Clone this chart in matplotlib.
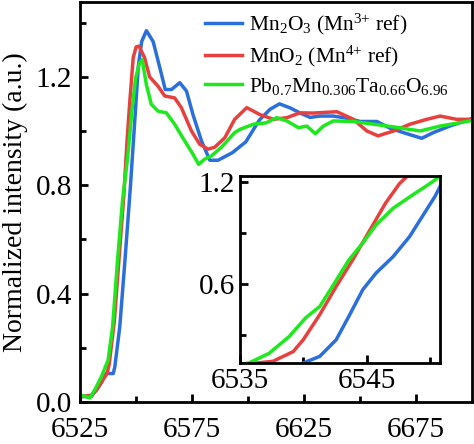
import numpy as np
import matplotlib
matplotlib.use('Agg')
import matplotlib.pyplot as plt

plt.rcParams['font.family'] = 'serif'
plt.rcParams['font.serif'] = ['Liberation Serif', 'DejaVu Serif']
plt.rcParams['mathtext.default'] = 'regular'

# Mn K-edge XANES, main panel
x_mn2o3 = [6525.6, 6530, 6534.4, 6536.7, 6539.8, 6540.5, 6542.7, 6545, 6547.5, 6549.5,
           6551, 6552.5, 6554.6, 6557.6, 6560.6, 6563, 6565.8, 6569.5, 6572.5, 6575.4,
           6579.2, 6582.9, 6586.6, 6593, 6599, 6605, 6609.8, 6614, 6618.8, 6623, 6627.7,
           6632, 6638, 6644, 6650, 6657.5, 6663.4, 6670.8, 6677.5, 6682.7, 6690, 6699]
y_mn2o3 = [0.02, 0.02, 0.07, 0.105, 0.105, 0.13, 0.277, 0.52, 0.80, 1.05,
           1.24, 1.33, 1.37, 1.33, 1.233, 1.153, 1.153, 1.178, 1.147, 1.06,
           0.963, 0.892, 0.892, 0.92, 0.96, 1.04, 1.08, 1.10, 1.085, 1.067, 1.05,
           1.055, 1.055, 1.047, 1.035, 1.035, 1.01, 0.99, 0.973, 0.994, 1.018, 1.043]

x_mno2 = [6525.6, 6530, 6532.4, 6535, 6537, 6538, 6540.3, 6542.3, 6544.5, 6546, 6547.2,
          6548.7, 6550, 6551.3, 6553.8, 6556, 6559.8, 6562.8, 6567.2, 6570.2, 6574.7,
          6578.4, 6582.1, 6585.1, 6589.6, 6594, 6599.4, 6605.4, 6611.3, 6617.3, 6623.2,
          6629, 6639.6, 6647, 6653, 6658, 6665, 6672.3, 6679.8, 6685.7, 6693, 6699]
y_mno2 = [0.02, 0.025, 0.044, 0.08, 0.105, 0.14, 0.30, 0.52, 0.76, 0.97, 1.11,
          1.27, 1.31, 1.313, 1.27, 1.20, 1.165, 1.129, 1.122, 1.086, 1.0,
          0.951, 0.933, 0.94, 0.975, 1.043, 1.086, 1.06, 1.043, 1.049, 1.067,
          1.066, 1.071, 1.043, 1.0, 0.982, 1.0, 1.025, 1.043, 1.055, 1.043, 1.043]

x_sample = [6525.6, 6529.3, 6531.5, 6534.5, 6537.5, 6539.5, 6541.7, 6544, 6546.2, 6548.2,
            6549.8, 6551.5, 6552.7, 6554.6, 6556.8, 6559.8, 6563.5, 6567.2, 6571.7, 6575.4,
            6577.9, 6580.6, 6583.6, 6588, 6594, 6596.4, 6602.4, 6608, 6612.8, 6617.3,
            6622.5, 6626.2, 6630, 6633.6, 6638, 6647, 6656, 6665, 6676.8, 6685.7, 6699]
y_sample = [0.025, 0.015, 0.044, 0.093, 0.155, 0.277, 0.522, 0.75, 0.90, 1.08,
            1.196, 1.25, 1.263, 1.17, 1.098, 1.073, 1.067, 1.025, 0.963, 0.914,
            0.877, 0.896, 0.908, 0.939, 0.994, 1.006, 1.025, 1.03, 1.049, 1.037,
            1.012, 1.018, 0.99, 1.018, 1.037, 1.035, 1.025, 1.015, 1.0, 1.018, 1.037]

# inset (edge region)
xi_mn2o3 = [6540.0, 6541.3, 6542.6, 6543.6, 6544.7, 6545.75, 6547.1, 6548.4, 6549.4, 6550.4, 6550.8]
yi_mn2o3 = [0.133, 0.172, 0.27, 0.408, 0.565, 0.663, 0.76, 0.878, 0.996, 1.114, 1.172]
xi_mno2 = [6535.0, 6536.3, 6537.6, 6539.2, 6540.0, 6541.3, 6542.6, 6543.9, 6545.2, 6546.5, 6547.6, 6548.3]
yi_mno2 = [0.12, 0.133, 0.143, 0.20, 0.27, 0.418, 0.584, 0.74, 0.908, 1.075, 1.19, 1.24]
xi_sample = [6535.0, 6535.7, 6537.3, 6538.9, 6540.2, 6541.3, 6542.3, 6543.6, 6544.7,
             6545.75, 6547.1, 6548.65, 6550.0, 6550.7]
yi_sample = [0.125, 0.133, 0.19, 0.29, 0.40, 0.466, 0.584, 0.74, 0.84,
             0.947, 1.045, 1.124, 1.19, 1.228]

labels = [r'Mn$_2$O$_3$ (Mn$^{3{+}}$ ref)', r'MnO$_2$ (Mn$^{4{+}}$ ref)',
          r'Pb$_{0.7}$Mn$_{0.306}$Ta$_{0.66}$O$_{6.96}$']
colors = ['#2a6fdc', '#e8403f', '#1ee81e']

fig = plt.figure(figsize=(4.74, 4.44), dpi=100)
ax = fig.add_axes([0.169, 0.0946, 0.827, 0.9004])

for xs, ys, c, lab in zip([x_mn2o3, x_mno2, x_sample], [y_mn2o3, y_mno2, y_sample], colors, labels):
    ax.plot(xs, ys, color=c, lw=2.5, label=lab, solid_joinstyle='round')

ax.set_xlim(6525, 6700)
ax.set_ylim(0, 1.475)
ax.set_xticks([6525, 6575, 6625, 6675])
ax.set_xticks([6550, 6600, 6650], minor=True)
ax.set_yticks([0.0, 0.4, 0.8, 1.2])
ax.set_yticks([0.2, 0.6, 1.0, 1.4], minor=True)
ax.tick_params(which='both', direction='in', width=2, labelsize=21)
ax.tick_params(which='major', length=6)
ax.tick_params(which='minor', length=4)
ax.tick_params(axis='x', pad=11)
ax.tick_params(axis='y', pad=6)
for s in ax.spines.values():
    s.set_linewidth(2)
ax.set_ylabel('Normalized intensity (a.u.)', fontsize=20, labelpad=5)

ax.legend(loc='upper left', frameon=False, fontsize=15.5, handlelength=1.75,
          handletextpad=0.3, labelspacing=0.3, borderpad=0, borderaxespad=0,
          bbox_to_anchor=(0.318, 0.975))

# inset
axi = fig.add_axes([0.5063, 0.1824, 0.4219, 0.4212])
for xs, ys, c in zip([xi_mn2o3, xi_mno2, xi_sample], [yi_mn2o3, yi_mno2, yi_sample], colors):
    axi.plot(xs, ys, color=c, lw=2.5, solid_joinstyle='round')
axi.set_xlim(6535, 6550.8)
axi.set_ylim(0.133, 1.235)
axi.set_xticks([6535, 6545])
axi.set_xticks([6540, 6550], minor=True)
axi.set_yticks([0.6, 1.2])
axi.set_yticks([0.3, 0.9], minor=True)
axi.tick_params(which='both', direction='in', width=2, labelsize=21)
axi.tick_params(which='major', length=6)
axi.tick_params(which='minor', length=4)
for s in axi.spines.values():
    s.set_linewidth(2)

fig.savefig('out.png', dpi=100)
